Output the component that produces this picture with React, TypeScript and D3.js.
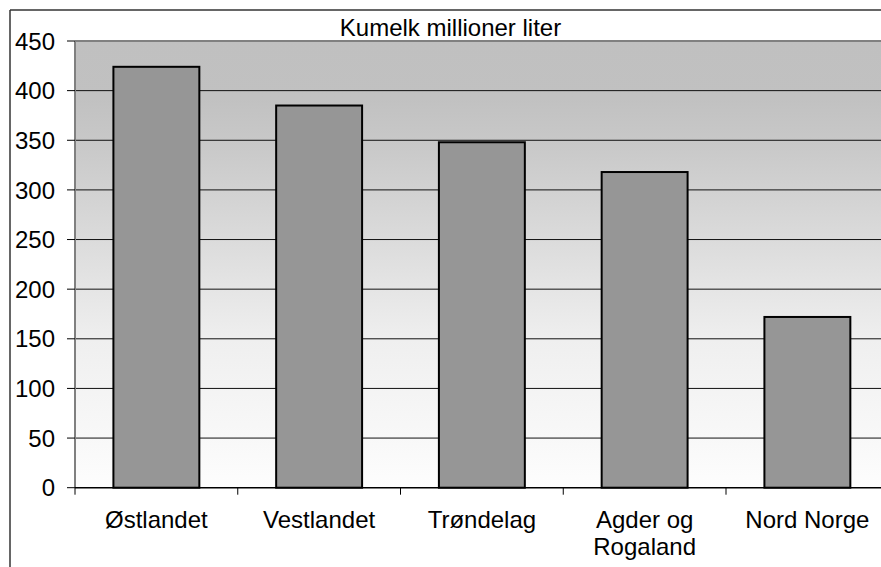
import React from "react";
import * as d3 from "d3";

const categories: string[][] = [["Østlandet"], ["Vestlandet"], ["Trøndelag"], ["Agder og", "Rogaland"], ["Nord Norge"]];
const values: number[] = [424, 385, 348, 318, 172];
const yTicks: number[] = [0, 50, 100, 150, 200, 250, 300, 350, 400, 450];
const title = "Kumelk millioner liter";

const W = 881, H = 567;
const left = 75, top = 41, bottom = 487.7, right = 888.75;
const font = "Arial, 'Liberation Sans', sans-serif";

export default function App() {
  const keys = categories.map((c) => c.join(" "));
  const x = d3.scaleBand<string>().domain(keys).range([left, right]).paddingInner(0.472).paddingOuter(0.236);
  const y = d3.scaleLinear().domain([0, 450]).range([bottom, top]);
  const step = x.step();
  const bounds = d3.range(keys.length + 1).map((i) => left + i * step);
  return (
    <svg width={W} height={H} style={{ position: "absolute", left: 0, top: 0, background: "#fff" }} fontFamily={font}>
      <defs>
        <linearGradient id="bg" x1="0" y1="0" x2="0" y2="1">
          <stop offset="0" stopColor="#c0c0c0" />
          <stop offset="0.13" stopColor="#c1c1c1" />
          <stop offset="0.25" stopColor="#cacaca" />
          <stop offset="0.67" stopColor="#efefef" />
          <stop offset="1" stopColor="#fdfdfd" />
        </linearGradient>
      </defs>
      <rect x={0} y={0} width={W} height={H} fill="#fff" />
      <line x1={10} y1={10} x2={W} y2={10} stroke="#333" strokeWidth={1.5} />
      <line x1={10} y1={10} x2={10} y2={H} stroke="#333" strokeWidth={1.5} />
      <rect x={left} y={top} width={right - left} height={bottom - top} fill="url(#bg)" />
      {yTicks.filter((t) => t > 0 && t < 450).map((t) => (
        <line key={t} x1={left} x2={right} y1={y(t)} y2={y(t)} stroke="#111" strokeWidth={1} />
      ))}
      <line x1={left} x2={right} y1={top} y2={top} stroke="#808080" strokeWidth={2} />
      <line x1={left} x2={left} y1={top} y2={bottom} stroke="#808080" strokeWidth={2} />
      {yTicks.map((t) => (
        <g key={t}>
          <line x1={67} x2={left} y1={y(t)} y2={y(t)} stroke="#000" strokeWidth={1} />
          <text x={55} y={y(t)} dy="0.36em" textAnchor="end" fontSize={24} fill="#000">{t}</text>
        </g>
      ))}
      {keys.map((k, i) => (
        <rect key={k} x={x(k)} y={y(values[i])} width={x.bandwidth()} height={bottom - y(values[i])}
          fill="#969696" stroke="#000" strokeWidth={2} />
      ))}
      <line x1={left} x2={right} y1={bottom} y2={bottom} stroke="#000" strokeWidth={1.5} />
      {bounds.map((b, i) => (
        <line key={i} x1={b} x2={b} y1={bottom} y2={bottom + 7} stroke="#000" strokeWidth={1} />
      ))}
      {categories.map((c, i) => (
        <text key={i} x={(x(keys[i]) as number) + x.bandwidth() / 2} y={528} textAnchor="middle" fontSize={24} fill="#000">
          {c.map((line, j) => (
            <tspan key={j} x={(x(keys[i]) as number) + x.bandwidth() / 2} dy={j === 0 ? 0 : 27}>{line}</tspan>
          ))}
        </text>
      ))}
      <text x={450.5} y={36} textAnchor="middle" fontSize={24} fill="#000">{title}</text>
    </svg>
  );
}
